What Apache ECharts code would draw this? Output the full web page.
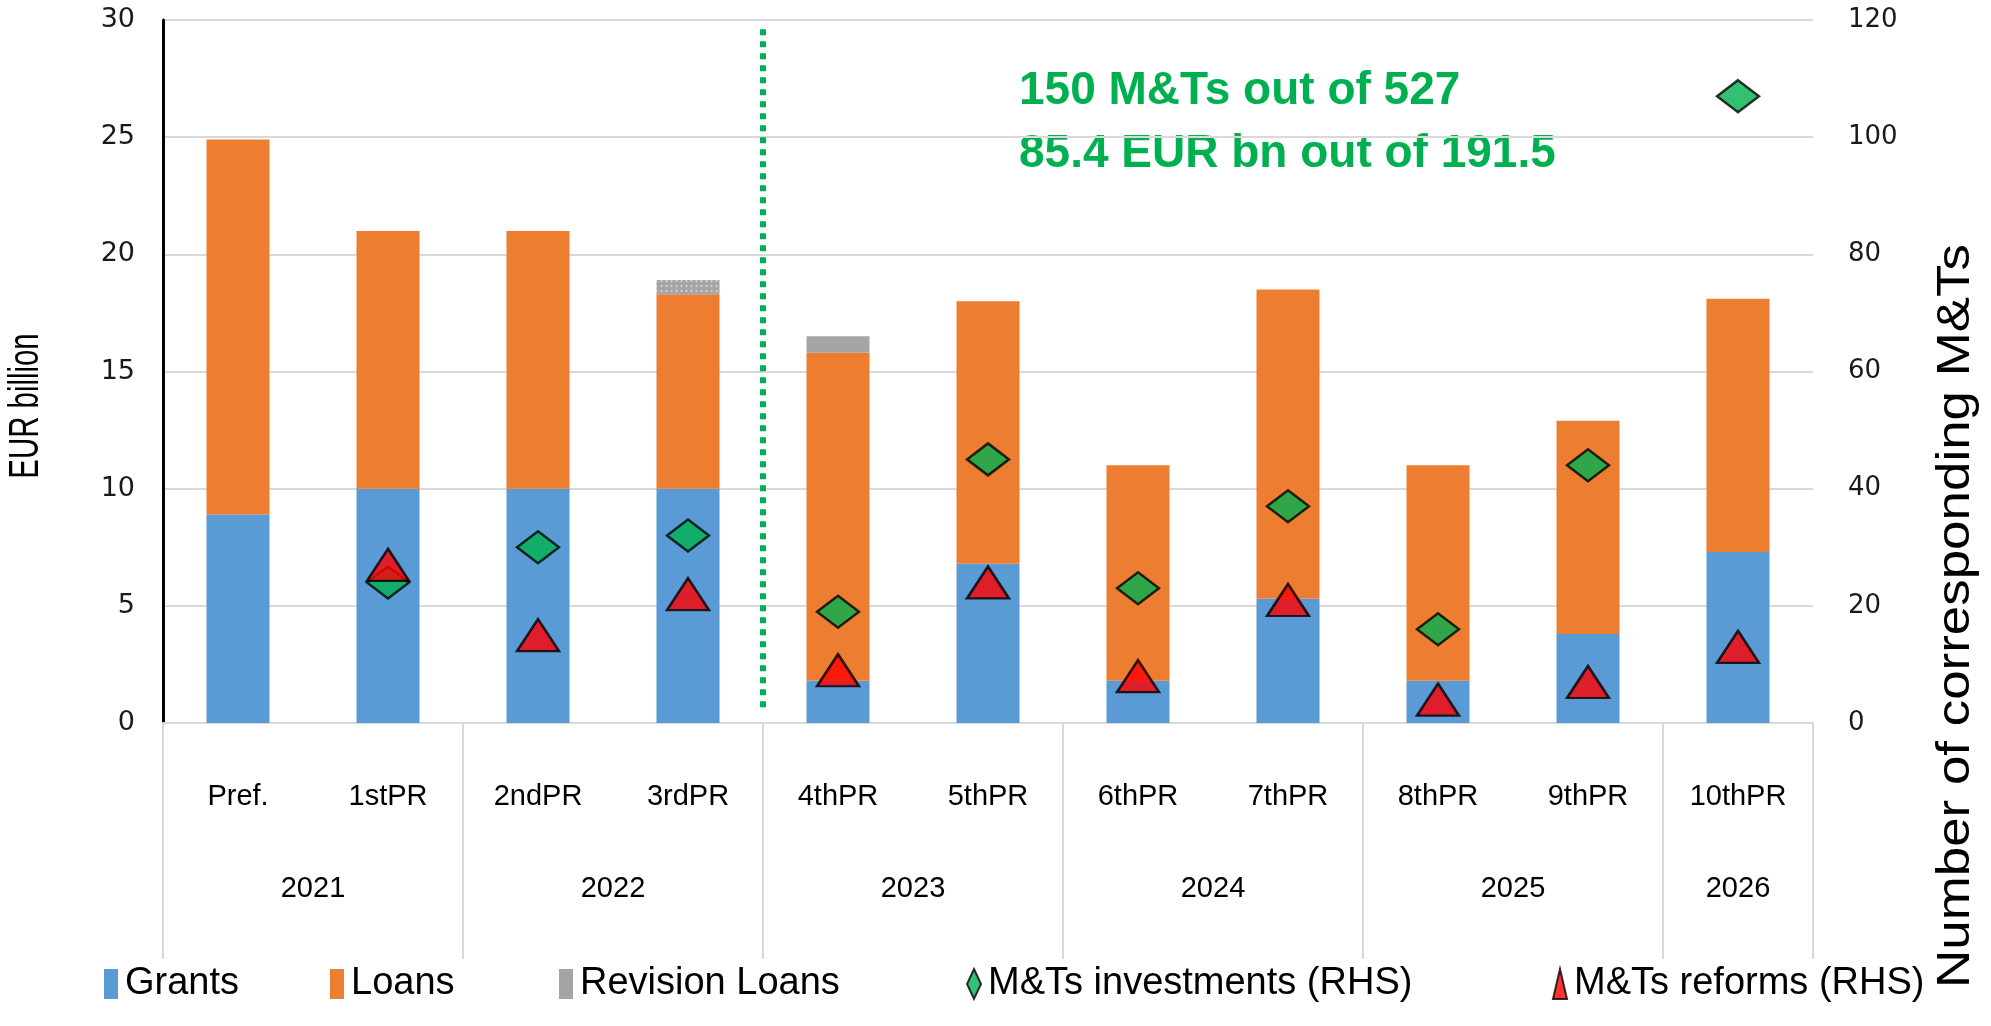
<!DOCTYPE html>
<html>
<head>
<meta charset="utf-8">
<script src="https://cdn.jsdelivr.net/npm/echarts@6/dist/echarts.min.js"></script>
<style>
html,body{margin:0;padding:0;background:#fff;}
#chart{width:1991px;height:1026px;}
</style>
</head>
<body>
<div id="chart"></div>
<script>
// ---- data ----
const categories = ['Pref.', '1stPR', '2ndPR', '3rdPR', '4thPR', '5thPR', '6thPR', '7thPR', '8thPR', '9thPR', '10thPR'];
const yearLabels = ['2021', '2022', '2023', '2024', '2025', '2026'];
const yearSpans = [2, 2, 2, 2, 2, 1];
const grants = [8.9, 10, 10, 10, 1.8, 6.8, 1.8, 5.3, 1.8, 3.8, 7.3];
const loans = [16.0, 11.0, 11.0, 8.3, 14.0, 11.2, 9.2, 13.2, 9.2, 9.1, 10.8];
const revisionLoans = [null, null, null, 0.6, 0.7, null, null, null, null, null, null];
const investments = [null, 24, 30, 32, 19, 45, 23, 37, 16, 44, 107];
const reforms = [null, 27, 15, 22, 9, 24, 8, 21, 4, 7, 13];
const leftTicks = { min: 0, max: 30, interval: 5 };
const rightTicks = { min: 0, max: 120, interval: 20 };
const dividerAt = 4;            // boundary between 3rdPR and 4thPR (in category units)
const dividerRange = [0.65, 29.6];
const noteLines = ['150 M&Ts out of 527', '85.4 EUR bn out of 191.5'];
const legendNames = ['Grants', 'Loans', 'Revision Loans', 'M&Ts investments (RHS)', 'M&Ts reforms (RHS)'];

// ---- derived helpers ----
const groupStarts = [];
const yearCenters = {};
let acc = 0;
yearSpans.forEach((s, i) => { groupStarts.push(acc); yearCenters[(acc + s / 2).toFixed(2)] = yearLabels[i]; acc += s; });

const tickFont = '"DejaVu Sans", Verdana, sans-serif';
const textFont = '"Liberation Sans", Arial, sans-serif';
const grid = '#d9d9d9';
const legendLefts = [104, 330, 559, 966, 1552];

const chart = echarts.init(document.getElementById('chart'), null, { renderer: 'canvas' });
chart.setOption({
  animation: false,
  backgroundColor: '#fff',
  grid: { left: 163, right: 178, top: 20, bottom: 303, containLabel: false },
  legend: legendNames.map((n, i) => ({
    data: [i < 3 ? { name: n, icon: 'rect' } : { name: n }],
    left: legendLefts[i], top: 965, padding: 0,
    itemWidth: 14, itemHeight: 30, itemGap: 0,
    selectedMode: false,
    textStyle: { fontFamily: textFont, fontSize: 38, color: '#000', padding: [0, 0, 0, 2] }
  })),
  xAxis: [
    {
      type: 'category', data: categories, position: 'bottom',
      axisLine: { show: true, lineStyle: { color: grid, width: 2 } },
      axisTick: {
        show: true, length: 236,
        interval: (idx) => groupStarts.indexOf(idx) >= 0,
        lineStyle: { color: grid, width: 2 }
      },
      axisLabel: { interval: 0, margin: 59, fontFamily: textFont, fontSize: 29, color: '#000' },
      splitLine: { show: false }
    },
    {
      type: 'value', min: 0, max: categories.length, interval: 0.5, position: 'bottom',
      axisLine: { show: false }, axisTick: { show: false }, splitLine: { show: false },
      axisLabel: {
        margin: 151, fontFamily: textFont, fontSize: 29, color: '#000',
        showMinLabel: true, showMaxLabel: true,
        formatter: (v) => yearCenters[Number(v).toFixed(2)] || ''
      }
    }
  ],
  yAxis: [
    {
      type: 'value', min: leftTicks.min, max: leftTicks.max, interval: leftTicks.interval,
      axisLine: { show: true, lineStyle: { color: '#000', width: 3 } },
      axisTick: { show: false },
      axisLabel: { margin: 28, fontFamily: tickFont, fontSize: 27, color: '#1a1a1a' },
      splitLine: { show: true, lineStyle: { color: grid, width: 2 } }
    },
    {
      type: 'value', min: rightTicks.min, max: rightTicks.max, interval: rightTicks.interval,
      position: 'right',
      axisLine: { show: false }, axisTick: { show: false },
      axisLabel: { margin: 35, fontFamily: tickFont, fontSize: 26, color: '#1a1a1a' },
      splitLine: { show: false }
    }
  ],
  series: [
    {
      name: 'Grants', type: 'bar', stack: 'total', barWidth: '42%',
      itemStyle: { color: '#5b9bd5' }, data: grants
    },
    {
      name: 'Loans', type: 'bar', stack: 'total', barWidth: '42%',
      itemStyle: { color: '#ed7d31' }, data: loans
    },
    {
      name: 'Revision Loans', type: 'bar', stack: 'total', barWidth: '42%',
      itemStyle: { color: '#a5a5a5' },
      data: revisionLoans.map((v, i) => i === 3 ? {
        value: v,
        itemStyle: { decal: { symbol: 'rect', symbolSize: 0.6, dashArrayX: [3, 2], dashArrayY: [2, 3], color: 'rgba(255,255,255,0.85)', rotation: 0 } }
      } : v)
    },
    {
      name: 'M&Ts investments (RHS)', type: 'scatter', yAxisIndex: 1,
      symbol: 'diamond', symbolSize: [42, 32],
      itemStyle: { color: '#00b050', borderColor: '#000', borderWidth: 2.5 },
      data: investments, z: 5
    },
    {
      name: 'M&Ts reforms (RHS)', type: 'scatter', yAxisIndex: 1,
      symbol: 'triangle', symbolSize: [42, 32],
      itemStyle: { color: '#ff0000', borderColor: '#000', borderWidth: 2.5 },
      data: reforms, z: 6
    },
    {
      name: 'divider', type: 'line', xAxisIndex: 1, yAxisIndex: 0,
      data: [[dividerAt, dividerRange[1]], [dividerAt, dividerRange[0]]],
      symbol: 'none', silent: true, z: 4,
      lineStyle: { color: '#00b050', width: 6, type: [6, 6], cap: 'butt' }
    }
  ],
  graphic: [
    {
      type: 'text', x: 26, y: 406, rotation: Math.PI / 2, scaleX: 0.7,
      style: { text: 'EUR billion', fontFamily: textFont, fontSize: 42, fill: '#000', align: 'center', verticalAlign: 'middle' }
    },
    {
      type: 'text', x: 1956, y: 616, rotation: Math.PI / 2, scaleX: 1.15,
      style: { text: 'Number of corresponding M&Ts', fontFamily: textFont, fontSize: 46, fill: '#000', align: 'center', verticalAlign: 'middle' }
    },
    {
      type: 'text', x: 1019, y: 91,
      style: { text: noteLines[0], fontFamily: textFont, fontWeight: 'bold', fontSize: 46, fill: '#00b050', align: 'left', verticalAlign: 'middle' }
    },
    {
      type: 'text', x: 1019, y: 154,
      style: { text: noteLines[1], fontFamily: textFont, fontWeight: 'bold', fontSize: 46, fill: '#00b050', align: 'left', verticalAlign: 'middle' }
    }
  ]
});
</script>
</body>
</html>
